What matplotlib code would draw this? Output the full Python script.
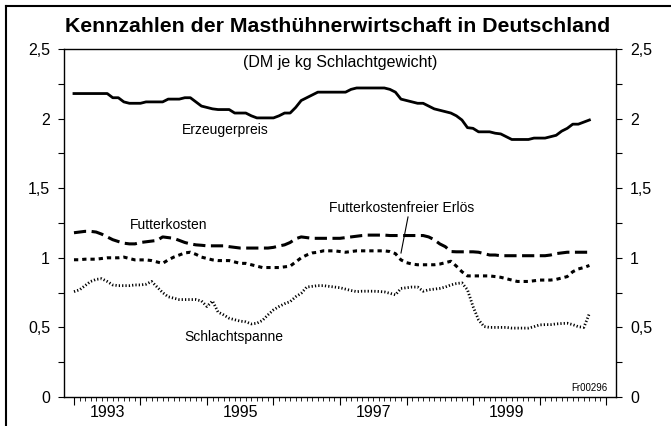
import numpy as np
import matplotlib.pyplot as plt
from matplotlib.lines import Line2D
from matplotlib.ticker import MultipleLocator, FuncFormatter

plt.rcParams['font.family'] = ['Liberation Sans', 'DejaVu Sans']

# monthly values, Jan 1993 .. Oct 2000 (DM je kg Schlachtgewicht)
erzeugerpreis = [
    2.18, 2.18, 2.18, 2.18, 2.18, 2.18, 2.18, 2.15, 2.15, 2.12, 2.11, 2.11,
    2.11, 2.12, 2.12, 2.12, 2.12, 2.14, 2.14, 2.14, 2.15, 2.15, 2.12, 2.09,
    2.08, 2.07, 2.065, 2.065, 2.065, 2.04, 2.04, 2.04, 2.02, 2.005, 2.005, 2.005,
    2.005, 2.02, 2.04, 2.04, 2.08, 2.13, 2.15, 2.17, 2.19, 2.19, 2.19, 2.19,
    2.19, 2.19, 2.21, 2.22, 2.22, 2.22, 2.22, 2.22, 2.22, 2.21, 2.19, 2.14,
    2.13, 2.12, 2.11, 2.11, 2.09, 2.07, 2.06, 2.05, 2.04, 2.02, 1.99, 1.935,
    1.93, 1.905, 1.905, 1.905, 1.895, 1.89, 1.87, 1.85, 1.85, 1.85, 1.85, 1.86,
    1.86, 1.86, 1.87, 1.88, 1.91, 1.93, 1.96, 1.96, 1.975, 1.99,
]
futterkosten = [
    1.18, 1.185, 1.19, 1.19, 1.185, 1.17, 1.15, 1.13, 1.117, 1.105, 1.10, 1.10,
    1.11, 1.115, 1.12, 1.125, 1.15, 1.145, 1.14, 1.125, 1.11, 1.10, 1.093, 1.09,
    1.086, 1.086, 1.086, 1.086, 1.08, 1.075, 1.07, 1.07, 1.07, 1.07, 1.07, 1.07,
    1.075, 1.085, 1.093, 1.11, 1.137, 1.15, 1.145, 1.14, 1.14, 1.14, 1.14, 1.14,
    1.14, 1.145, 1.15, 1.155, 1.16, 1.163, 1.163, 1.163, 1.163, 1.16, 1.16, 1.16,
    1.16, 1.16, 1.16, 1.16, 1.15, 1.13, 1.10, 1.08, 1.045, 1.043, 1.043, 1.043,
    1.043, 1.04, 1.03, 1.02, 1.02, 1.015, 1.015, 1.015, 1.015, 1.015, 1.015, 1.015,
    1.015, 1.015, 1.02, 1.03, 1.035, 1.04, 1.04, 1.04, 1.04, 1.04,
]
erloes = [
    0.986, 0.986, 0.99, 0.99, 0.99, 0.995, 1.0, 1.0, 1.0, 1.005, 0.995, 0.985,
    0.985, 0.985, 0.98, 0.97, 0.96, 0.985, 1.005, 1.02, 1.035, 1.04, 1.025, 1.005,
    0.995, 0.985, 0.98, 0.98, 0.98, 0.97, 0.96, 0.96, 0.95, 0.94, 0.93, 0.93,
    0.93, 0.93, 0.935, 0.94, 0.97, 1.0, 1.02, 1.035, 1.04, 1.05, 1.05, 1.05,
    1.045, 1.04, 1.045, 1.05, 1.05, 1.05, 1.05, 1.05, 1.05, 1.045, 1.03, 0.985,
    0.965, 0.955, 0.95, 0.95, 0.95, 0.95, 0.955, 0.965, 0.975, 0.94, 0.90, 0.87,
    0.87, 0.87, 0.87, 0.87, 0.865, 0.86, 0.85, 0.84, 0.83, 0.83, 0.83, 0.835,
    0.84, 0.84, 0.84, 0.845, 0.855, 0.865, 0.90, 0.92, 0.93, 0.945,
]
schlachtspanne = [
    0.757, 0.77, 0.80, 0.83, 0.845, 0.85, 0.83, 0.805, 0.80, 0.80, 0.80, 0.805,
    0.805, 0.81, 0.83, 0.79, 0.75, 0.72, 0.71, 0.70, 0.70, 0.70, 0.70, 0.69,
    0.65, 0.69, 0.61, 0.59, 0.566, 0.555, 0.545, 0.54, 0.525, 0.53, 0.55, 0.59,
    0.626, 0.65, 0.67, 0.685, 0.72, 0.745, 0.79, 0.795, 0.80, 0.80, 0.795, 0.79,
    0.785, 0.775, 0.765, 0.757, 0.76, 0.76, 0.76, 0.758, 0.755, 0.745, 0.734, 0.78,
    0.785, 0.79, 0.79, 0.76, 0.77, 0.775, 0.78, 0.79, 0.805, 0.815, 0.82, 0.77,
    0.65, 0.554, 0.506, 0.50, 0.50, 0.50, 0.50, 0.495, 0.495, 0.495, 0.495, 0.505,
    0.518, 0.52, 0.52, 0.525, 0.528, 0.53, 0.52, 0.505, 0.50, 0.60,
]
start_year = 1993
year_labels = [1993, 1995, 1997, 1999]

t = start_year + np.arange(len(erzeugerpreis)) / 12.0

fig = plt.figure(figsize=(6.71, 4.26), dpi=100)
ax = fig.add_axes([64 / 671, 1 - 397 / 426, 552 / 671, 348 / 426])

ax.plot(t, erzeugerpreis, color='black', lw=2.0, solid_joinstyle='round')
ax.plot(t, futterkosten, color='black', lw=2.2, linestyle=(0, (4, 1.8)))
ax.plot(t, erloes, color='black', lw=2.2, linestyle=(0, (1.4, 1.3)))
ax.plot(t, schlachtspanne, color='black', lw=2.0, linestyle=(0, (0.45, 0.75)))

ax.set_xlim(1992.85, 2001.15)
ax.set_ylim(0, 2.5)

# y axis: both sides, outward ticks
ax.yaxis.set_major_locator(MultipleLocator(0.5))
ax.yaxis.set_minor_locator(MultipleLocator(0.25))
ax.yaxis.set_major_formatter(FuncFormatter(lambda v, p: f"{v:g}".replace('.', ',')))
ax.tick_params(axis='y', which='both', direction='out', left=True, right=True,
               labelleft=True, labelright=True, labelsize=11.5, length=4,
               width=0.8, pad=6)

# x axis: year boundaries and months, labels in the middle of the year
ax.set_xticks(np.arange(1993, 2002))
ax.set_xticklabels([])
ax.set_xticks(np.arange(1993, 2001 + 1 / 24, 1 / 12), minor=True)
ax.tick_params(axis='x', which='major', direction='out', length=6, width=0.8)
ax.tick_params(axis='x', which='minor', direction='out', length=3, width=0.6)
sec = ax.secondary_xaxis('bottom')
sec.set_xticks([y + 0.5 for y in year_labels])
sec.set_xticklabels([str(y) for y in year_labels])
sec.tick_params(length=0, labelsize=11.5, pad=6)
sec.spines['bottom'].set_visible(False)

for s in ax.spines.values():
    s.set_linewidth(1.0)


def px(xp, yp):
    return (xp / 671, 1 - yp / 426)


fig.text(*px(338, 27), 'Kennzahlen der Masthühnerwirtschaft in Deutschland',
         ha='center', va='center', fontsize=15.3, fontweight='bold')
fig.text(*px(340, 62), '(DM je kg Schlachtgewicht)',
         ha='center', va='center', fontsize=11.5)

fig.text(*px(225, 130), 'Erzeugerpreis', ha='center', va='center', fontsize=10)
fig.text(*px(169, 225), 'Futterkosten', ha='center', va='center', fontsize=10)
fig.text(*px(234, 337), 'Schlachtspanne', ha='center', va='center', fontsize=10)
fig.text(*px(402, 208), 'Futterkostenfreier Erlös', ha='center', va='center', fontsize=10)
fig.text(*px(608, 388), 'Fr00296', ha='right', va='center', fontsize=7)
fig.add_artist(Line2D([408 / 671, 401 / 671], [1 - 217 / 426, 1 - 253 / 426],
                      color='black', lw=0.8))

# outer frame (left and top edges are visible)
fig.add_artist(Line2D([6 / 671, 6 / 671], [0, 1 - 6 / 426], color='black', lw=1.5))
fig.add_artist(Line2D([6 / 671, 1], [1 - 6 / 426, 1 - 6 / 426], color='black', lw=1.5))

fig.savefig('out.png', dpi=100)
